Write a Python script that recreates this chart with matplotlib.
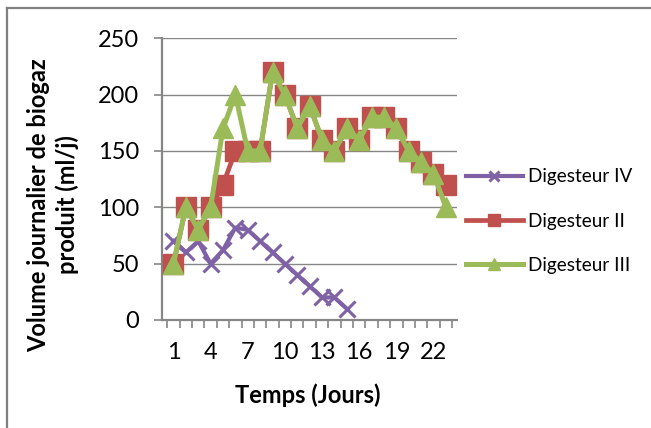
import matplotlib
matplotlib.use("Agg")
import matplotlib.pyplot as plt
from matplotlib.lines import Line2D
from matplotlib.ticker import FixedLocator

plt.rcParams['font.family'] = ['Lato', 'DejaVu Sans']

# Data
days = list(range(1, 24))
days_iv = list(range(1, 16))
dig_iv = [70, 60, 70, 50, 62, 82, 80, 70, 60, 50, 40, 30, 20, 20, 10]
dig_ii = [50, 100, 80, 100, 120, 150, 150, 150, 220, 200, 170, 190, 160, 150,
          170, 160, 180, 180, 170, 150, 140, 130, 120]
dig_iii = [50, 100, 80, 100, 170, 200, 150, 150, 220, 200, 170, 190, 160, 150,
           170, 160, 180, 180, 170, 150, 140, 130, 100]
labels = ["Digesteur IV", "Digesteur II", "Digesteur III"]
yticks = [0, 50, 100, 150, 200, 250]
xtick_days = [1, 4, 7, 10, 13, 16, 19, 22]

W, H = 651, 428
fig = plt.figure(figsize=(W / 100, H / 100), dpi=100)
fig.patch.set_facecolor('white')

left, right, top, bottom = 161.7, 457.0, 38.3, 320.0
ax = fig.add_axes([left / W, 1 - bottom / H, (right - left) / W, (bottom - top) / H])

purple = '#7F62A6'
red = '#C0504D'
green = '#9BBB59'
grey = '#868686'

ax.plot(days_iv, dig_iv, color=purple, lw=3.0, marker='x', ms=11, mew=2.2,
        label=labels[0], zorder=3)
ax.plot(days, dig_ii, color=red, lw=3.4, marker='s', ms=14.5, mec=red,
        label=labels[1], zorder=4)
ax.plot(days, dig_iii, color=green, lw=3.6, marker='^', ms=15, mec=green,
        label=labels[2], zorder=5)

ax.set_xlim(0.05, 23.9)
ax.set_ylim(0, 250)
ax.set_yticks(yticks)
ax.set_yticklabels([str(v) for v in yticks])
ax.set_xticks(xtick_days)
ax.set_xticklabels([str(v) for v in xtick_days])
ax.xaxis.set_minor_locator(FixedLocator([d + 0.5 for d in range(0, 24)]))

ax.grid(axis='y', color=grey, lw=1.0, zorder=0)
ax.set_axisbelow(True)
for s in ['top', 'right']:
    ax.spines[s].set_visible(False)
for s in ['left', 'bottom']:
    ax.spines[s].set_color(grey)
    ax.spines[s].set_linewidth(1.6)

ax.tick_params(axis='y', which='major', direction='out', length=5.5, width=1.2,
               color=grey, labelsize=17, pad=11)
ax.tick_params(axis='x', which='major', length=0, labelsize=17, pad=16)
ax.tick_params(axis='x', which='minor', direction='out', length=5.5, width=1.2,
               color=grey)

fig.text(308 / W, 1 - 395 / H, 'Temps (Jours)', ha='center', va='center',
         fontsize=17, fontweight='bold')
fig.text(53 / W, 1 - 205 / H, 'Volume journalier de biogaz\nproduit (ml/j)',
         ha='center', va='center', rotation=90, fontsize=17, fontweight='bold',
         linespacing=1.3, multialignment='center')

leg = ax.legend(loc='center left', bbox_to_anchor=(466 / W, 1 - 221 / H),
                bbox_transform=fig.transFigure, frameon=False, fontsize=13.6,
                borderpad=0, borderaxespad=0, handlelength=3.0,
                handletextpad=0.3, labelspacing=1.45, markerscale=0.6)

# outer border (partial frame)
fig.add_artist(Line2D([7 / W, 7 / W], [0, 1 - 8 / H], color='#808080', lw=1.6,
                      transform=fig.transFigure))
fig.add_artist(Line2D([7 / W, 1], [1 - 8 / H, 1 - 8 / H], color='#808080', lw=1.6,
                      transform=fig.transFigure))

fig.savefig('out.png', dpi=100)
